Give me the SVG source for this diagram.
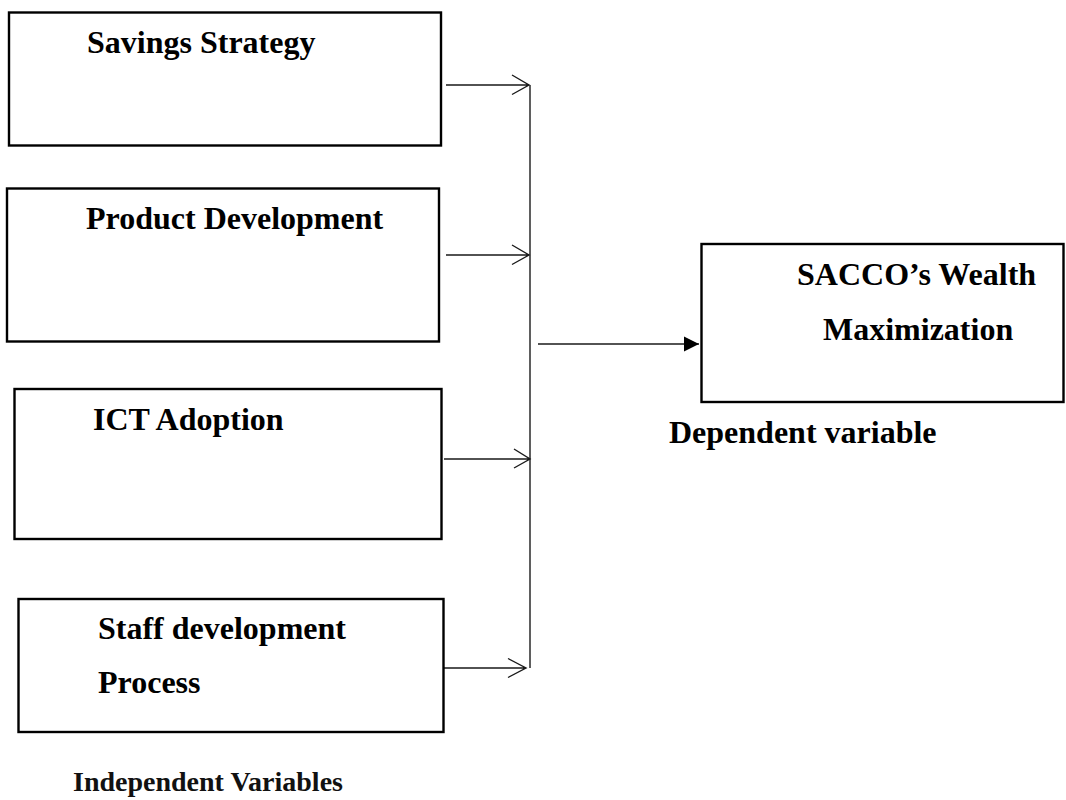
<svg xmlns="http://www.w3.org/2000/svg" width="1066" height="800" viewBox="0 0 1066 800">
<style>
.box{fill:#fff;stroke:#000;stroke-width:2.4}
.t{font-family:"Liberation Serif","Times New Roman",serif;font-weight:bold;font-size:32px;fill:#000}
.lbl{font-family:"Liberation Serif","Times New Roman",serif;font-weight:bold;font-size:28px;fill:#111}
.c{fill:none;stroke:#1a1a1a;stroke-width:1.4}
</style>
<defs>
<marker id="filled" markerWidth="16" markerHeight="16" refX="15" refY="8" orient="auto" markerUnits="userSpaceOnUse">
<path d="M0,0.5 L15,8 L0,15.5 Z" fill="#000"/>
</marker>
</defs>
<g id="connectors">
<line class="c" x1="530" y1="85" x2="530" y2="668"/>
<path class="c" d="M446,85 L529,85 M512,75 L529,85 L512,94.5"/>
<path class="c" d="M446,255 L529,255 M512,245 L529,255 L512,264.5"/>
<path class="c" d="M444,459 L530,459 M514,449 L530,459 L514,468"/>
<path class="c" d="M443,668 L526,668 M508,658.5 L526,668 L508,677.5"/>
<line class="c" x1="538" y1="344" x2="699" y2="344" marker-end="url(#filled)"/>
</g>
<g id="savings">
<rect class="box" x="9" y="12.5" width="432" height="133"/>
<text class="t" x="87" y="53">Savings Strategy</text>
</g>
<g id="product">
<rect class="box" x="7" y="188.5" width="432" height="153"/>
<text class="t" x="86" y="229">Product Development</text>
</g>
<g id="ict">
<rect class="box" x="14.5" y="389" width="427" height="150"/>
<text class="t" x="93" y="430">ICT Adoption</text>
</g>
<g id="staff">
<rect class="box" x="18.5" y="599" width="425" height="133"/>
<text class="t" x="98" y="639">Staff development</text>
<text class="t" x="98" y="693">Process</text>
</g>
<g id="sacco">
<rect class="box" x="701.5" y="244" width="362" height="158"/>
<text class="t" x="797" y="285">SACCO’s Wealth</text>
<text class="t" x="823" y="340">Maximization</text>
</g>
<g id="labels">
<text class="t" x="669" y="443">Dependent variable</text>
<text class="lbl" x="73" y="791">Independent Variables</text>
</g>
</svg>
